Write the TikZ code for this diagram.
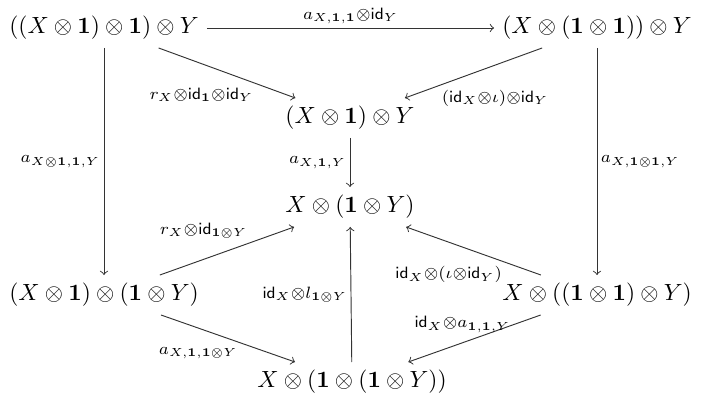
\documentclass[tikz,border=0pt]{standalone}
\usepackage{amsmath}
\begin{document}
\begin{tikzpicture}[x=0.015cm,y=-0.015cm,
lbl/.style={font=\everymath\expandafter{\the\everymath\scriptstyle},inner sep=1.5pt},
arr/.style={->,draw=black!80}]
\useasboundingbox (0,0) rectangle (720,410);
% objects
\node (A) at (104, 28) {$((X\otimes\mathbf{1})\otimes\mathbf{1})\otimes Y$};
\node (B) at (597, 28) {$(X\otimes(\mathbf{1}\otimes\mathbf{1}))\otimes Y$};
\node (C) at (350, 118) {$(X\otimes\mathbf{1})\otimes Y$};
\node (D) at (350, 207) {$X\otimes(\mathbf{1}\otimes Y)$};
\node (E) at (104, 295) {$(X\otimes\mathbf{1})\otimes(\mathbf{1}\otimes Y)$};
\node (F) at (597, 295) {$X\otimes((\mathbf{1}\otimes\mathbf{1})\otimes Y)$};
\node (G) at (352, 382) {$X\otimes(\mathbf{1}\otimes(\mathbf{1}\otimes Y))$};

% top part
\draw[arr] (A) -- (B) node[midway,above,lbl] {$a_{X,\mathbf{1},\mathbf{1}}\otimes\mathsf{id}_Y$};
\draw[arr] (A) -- (C) node[pos=0.72,below left,lbl] {$r_X\otimes\mathsf{id}_{\mathbf{1}}\otimes\mathsf{id}_Y$};
\draw[arr] (B) -- (C) node[pos=0.76,below right,lbl] {$(\mathsf{id}_X\otimes\iota)\otimes\mathsf{id}_Y$};
\draw[arr] (C) -- (D) node[midway,left,lbl] {$a_{X,\mathbf{1},Y}$};

% sides
\draw[arr] (A) -- (E) node[midway,left,lbl] {$a_{X\otimes\mathbf{1},\mathbf{1},Y}$};
\draw[arr] (B) -- (F) node[midway,right,lbl] {$a_{X,\mathbf{1}\otimes\mathbf{1},Y}$};

% bottom part
\draw[arr] (E) -- (D) node[pos=0.68,above left,lbl] {$r_X\otimes\mathsf{id}_{\mathbf{1}\otimes Y}$};
\draw[arr] (F) -- (D) node[pos=0.26,below left,lbl] {$\mathsf{id}_X\otimes(\iota\otimes\mathsf{id}_Y)$};
\draw[arr] (G) -- (D) node[midway,left,lbl] {$\mathsf{id}_X\otimes l_{\mathbf{1}\otimes Y}$};
\draw[arr] (E) -- (G) node[pos=0.6,below left,lbl] {$a_{X,\mathbf{1},\mathbf{1}\otimes Y}$};
\draw[arr] (F) -- (G) node[pos=0.2,left,lbl] {$\mathsf{id}_X\otimes a_{\mathbf{1},\mathbf{1},Y}$};
\end{tikzpicture}
\end{document}
